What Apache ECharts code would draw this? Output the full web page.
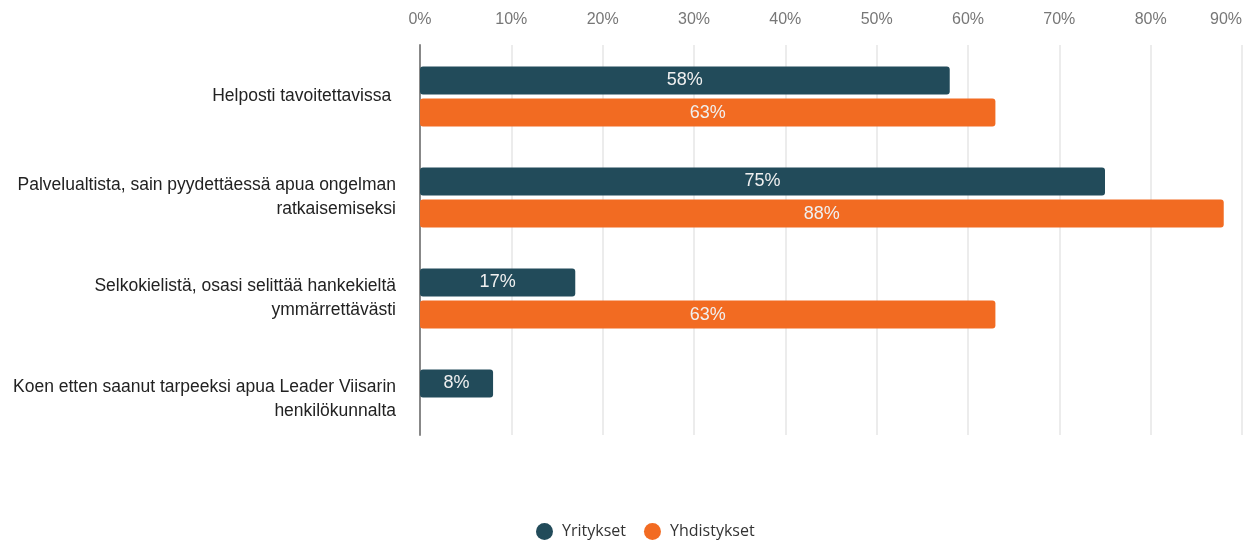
<!DOCTYPE html>
<html><head><meta charset="utf-8">
<script src="https://cdn.jsdelivr.net/npm/echarts@6/dist/echarts.min.js"></script>
<style>html,body{margin:0;padding:0;background:#fff}#c{width:1247px;height:540px}</style>
</head><body><div id="c"></div>
<script>
const categories = [
  "Helposti tavoitettavissa ",
  "Palvelualtista, sain pyydettäessä apua ongelman\nratkaisemiseksi",
  "Selkokielistä, osasi selittää hankekieltä\nymmärrettävästi",
  "Koen etten saanut tarpeeksi apua Leader Viisarin\nhenkilökunnalta"
];
const yritykset = [58, 75, 17, 8];
const yhdistykset = [63, 88, 63, null];
const seriesNames = ["Yritykset", "Yhdistykset"];
const colors = ["#224B5A", "#F26B22"];

const FONT = '"Liberation Sans", Arial, sans-serif';
const chart = echarts.init(document.getElementById('c'), null, {renderer: 'canvas'});
const lbl = {show: true, position: 'inside', color: '#f0f0f0', fontSize: 18, fontFamily: FONT, formatter: p => p.value + '%'};
chart.setOption({
  animation: false,
  grid: [
    {left: 420, right: 5, top: 45, bottom: 105},
    {left: 420, right: 5, top: 46, bottom: 90}
  ],
  legend: {
    top: 518, left: 531, icon: 'circle', itemWidth: 17, itemHeight: 17, itemGap: 18,
    textStyle: {fontSize: 16, color: '#333', fontFamily: '"Open Sans", sans-serif', padding: [0, 0, 0, 4]},
    data: seriesNames
  },
  xAxis: [
    {gridIndex: 0, type: 'value', position: 'top', min: 0, max: 90, interval: 10,
     axisLabel: {formatter: '{value}%', color: '#777', fontSize: 16, margin: 17, alignMaxLabel: 'right', fontFamily: FONT},
     splitLine: {lineStyle: {color: '#e6e6e6', width: 1.5}},
     axisLine: {show: false}, axisTick: {show: false}},
    {gridIndex: 1, type: 'value', min: 0, max: 90, interval: 10, show: false}
  ],
  yAxis: [
    {gridIndex: 0, type: 'value', min: 0, max: 1, splitLine: {show: false},
     axisLabel: {show: false}, axisTick: {show: false},
     axisLine: {show: true, lineStyle: {color: '#888', width: 2}}},
    {gridIndex: 1, type: 'category', inverse: true, data: categories,
     axisLine: {show: false}, axisTick: {show: false},
     axisLabel: {color: '#222', fontSize: 17.5, margin: 24, lineHeight: 24, fontFamily: FONT, align: 'right'}}
  ],
  series: [
    {name: seriesNames[0], type: 'bar', xAxisIndex: 1, yAxisIndex: 1, data: yritykset, barWidth: 28, barGap: '15%',
     itemStyle: {color: colors[0], borderRadius: 3}, label: lbl},
    {name: seriesNames[1], type: 'bar', xAxisIndex: 1, yAxisIndex: 1, data: yhdistykset, barWidth: 28, barGap: '15%',
     itemStyle: {color: colors[1], borderRadius: 3}, label: lbl}
  ]
});
</script></body></html>
